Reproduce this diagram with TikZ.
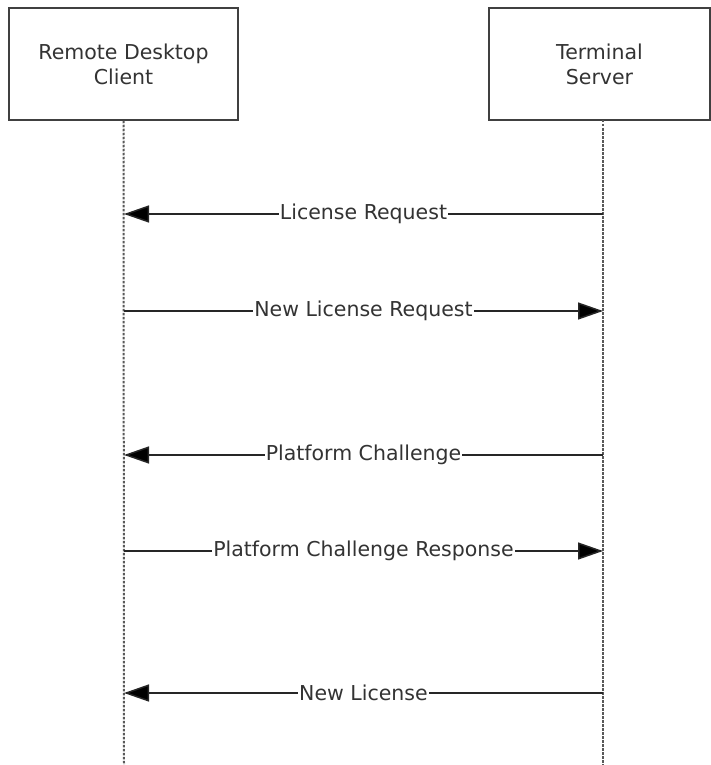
\documentclass[tikz,border=0pt]{standalone}
\usepackage{fontspec}
\setmainfont{DejaVu Sans}
\usetikzlibrary{arrows.meta}
\begin{document}
\begin{tikzpicture}[x=1pt,y=-1pt,
  actor/.style={draw=black!75,line width=1.5pt,minimum height=112pt,inner sep=0pt,align=center,text=black!80,font=\fontsize{20.5}{25}\selectfont},
  lifeline/.style={draw=black!65,line width=2pt,dash pattern=on 2.5pt off 1.5pt},
  msg/.style={draw=black!85,line width=1.5pt,-{Triangle[length=25pt,width=17pt,fill=black]}},
  msglabel/.style={fill=white,inner sep=1pt,text=black!80,font=\fontsize{20.5}{25}\selectfont}]
\useasboundingbox (0,0) rectangle (711,765);
% participants
\node[actor,minimum width=229pt] (client) at (123.5,64) {Remote Desktop\\Client};
\node[actor,minimum width=221pt] (server) at (599.5,64) {Terminal\\Server};
% lifelines
\coordinate (cb) at (124,765);
\coordinate (st) at (603,120);
\coordinate (sb) at (603,765);
\draw[lifeline] (client.south) -- (cb);
\draw[lifeline] (st) -- (sb);
% messages
\foreach \y [count=\i] in {214,311,455,551,693}{
  \coordinate (c\i) at (124,\y);
  \coordinate (s\i) at (603,\y);
}
\draw[msg] (s1) -- node[msglabel]{License Request} (c1);
\draw[msg] (c2) -- node[msglabel]{New License Request} (s2);
\draw[msg] (s3) -- node[msglabel]{Platform Challenge} (c3);
\draw[msg] (c4) -- node[msglabel]{Platform Challenge Response} (s4);
\draw[msg] (s5) -- node[msglabel]{New License} (c5);
\end{tikzpicture}
\end{document}
